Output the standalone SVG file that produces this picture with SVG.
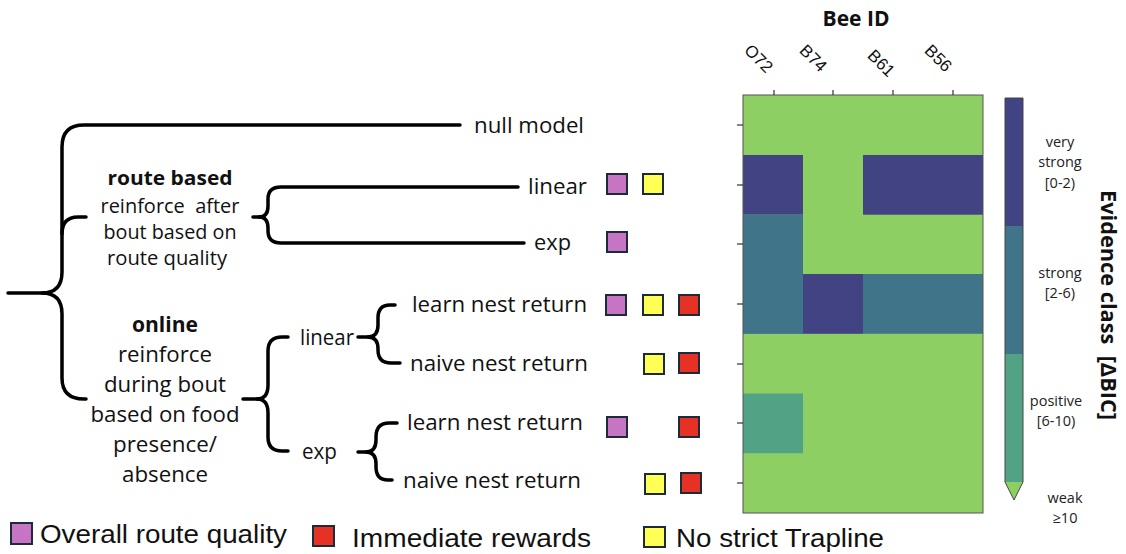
<svg xmlns="http://www.w3.org/2000/svg" width="1126" height="554" viewBox="0 0 1126 554">
  <style>
    .lbl { font-family: "Open Sans", "DejaVu Sans", sans-serif; font-size: 21px; fill: #111; }
    .blk { font-family: "Open Sans", "DejaVu Sans", sans-serif; font-size: 20px; fill: #111; text-anchor: middle; white-space: pre; }
    .blk2 { font-size: 21px; }
    .bold { font-weight: bold; }
    .brace { fill: none; stroke: #000; stroke-width: 3.5; stroke-linecap: round; stroke-linejoin: round; }
    .sq { stroke: #1c2b3a; stroke-width: 2; }
    .pur { fill: #c874c4; }
    .yel { fill: #ffff55; }
    .red { fill: #e53225; }
    .tick { stroke: #333; stroke-width: 1.2; }
    .col { font-family: "Liberation Sans", Arial, sans-serif; font-size: 17px; fill: #111; text-anchor: end; }
    .cb { font-family: "Open Sans", "DejaVu Sans", sans-serif; font-size: 14.5px; fill: #222; text-anchor: middle; }
    .leg { font-family: "Liberation Sans", Arial, sans-serif; font-size: 25px; fill: #111; }
    .c0 { fill: #8dcf62; }
    .c1 { fill: #424382; }
    .c2 { fill: #3f7489; }
    .c3 { fill: #52a385; }
  </style>
  <defs>
    <rect id="box" width="20" height="20"/>
  </defs>

  <rect width="1126" height="554" fill="#fff"/>

  <!-- brace connectors of the model tree -->
  <g id="connectors" class="brace">
    <!-- root brace -->
    <path d="M8,293 H42 Q62,293 62,272 V147 Q62,125 84,125 H460"/>
    <path d="M42,293 Q62,293 62,314 V378 Q62,399 84,399 H86"/>
    <path d="M62,234 Q62,217 78,217 H86"/>
    <!-- route based brace -->
    <path d="M253,217 H259 Q268,217 268,206 V199 Q268,187 281,187 H518"/>
    <path d="M259,217 Q268,217 268,228 V231 Q268,243 281,243 H524"/>
    <!-- online brace -->
    <path d="M243,399 H257 Q268,399 268,385 V351 Q268,337 282,337 H288"/>
    <path d="M257,399 Q268,399 268,413 V437 Q268,451 282,451 H288"/>
    <!-- online / linear brace -->
    <path d="M358,337 H368 Q378,337 378,325 V318 Q378,305 390,305 H395"/>
    <path d="M368,337 Q378,337 378,349 V350 Q378,363 391,363 H400"/>
    <!-- online / exp brace -->
    <path d="M358,452 H366 Q376,452 376,440 V437 Q376,423 389,423 H397"/>
    <path d="M366,452 Q376,452 376,464 V467 Q376,480 388,480 H392"/>
  </g>

  <!-- model family descriptions -->
  <g id="node-route-based">
    <text class="blk bold" x="170" y="185" textLength="125" lengthAdjust="spacingAndGlyphs">route based</text>
    <text class="blk" x="170" y="213" textLength="139" lengthAdjust="spacingAndGlyphs">reinforce  after</text>
    <text class="blk" x="170" y="239" textLength="133" lengthAdjust="spacingAndGlyphs">bout based on</text>
    <text class="blk" x="167" y="265" textLength="120" lengthAdjust="spacingAndGlyphs">route quality</text>
  </g>
  <g id="node-online">
    <text class="blk blk2 bold" x="165" y="332" textLength="66" lengthAdjust="spacingAndGlyphs">online</text>
    <text class="blk blk2" x="165" y="362" textLength="94" lengthAdjust="spacingAndGlyphs">reinforce</text>
    <text class="blk blk2" x="165" y="392" textLength="122" lengthAdjust="spacingAndGlyphs">during bout</text>
    <text class="blk blk2" x="165" y="422" textLength="149" lengthAdjust="spacingAndGlyphs">based on food</text>
    <text class="blk blk2" x="165" y="452" textLength="104" lengthAdjust="spacingAndGlyphs">presence/</text>
    <text class="blk blk2" x="165" y="482" textLength="86" lengthAdjust="spacingAndGlyphs">absence</text>
  </g>
  <g id="node-online-linear">
    <text class="lbl" x="300" y="345" textLength="54" lengthAdjust="spacingAndGlyphs">linear</text>
  </g>
  <g id="node-online-exp">
    <text class="lbl" x="302" y="459" textLength="35" lengthAdjust="spacingAndGlyphs">exp</text>
  </g>

  <!-- leaf models with their property markers -->
  <g id="node-null">
    <text class="lbl" x="474" y="133" textLength="110" lengthAdjust="spacingAndGlyphs">null model</text>
  </g>
  <g id="node-route-linear">
    <text class="lbl" x="528" y="194" textLength="59" lengthAdjust="spacingAndGlyphs">linear</text>
    <use href="#box" class="sq pur" x="607" y="174"/>
    <use href="#box" class="sq yel" x="643" y="174"/>
  </g>
  <g id="node-route-exp">
    <text class="lbl" x="534" y="250" textLength="37" lengthAdjust="spacingAndGlyphs">exp</text>
    <use href="#box" class="sq pur" x="607" y="232"/>
  </g>
  <g id="node-lin-learn">
    <text class="lbl" x="412" y="312" textLength="175" lengthAdjust="spacingAndGlyphs">learn nest return</text>
    <use href="#box" class="sq pur" x="606" y="295"/>
    <use href="#box" class="sq yel" x="643" y="295"/>
    <use href="#box" class="sq red" x="679" y="295"/>
  </g>
  <g id="node-lin-naive">
    <text class="lbl" x="410" y="371" textLength="178" lengthAdjust="spacingAndGlyphs">naive nest return</text>
    <use href="#box" class="sq yel" x="644" y="354"/>
    <use href="#box" class="sq red" x="679" y="353"/>
  </g>
  <g id="node-exp-learn">
    <text class="lbl" x="407" y="430" textLength="176" lengthAdjust="spacingAndGlyphs">learn nest return</text>
    <use href="#box" class="sq pur" x="607" y="417"/>
    <use href="#box" class="sq red" x="679" y="417"/>
  </g>
  <g id="node-exp-naive">
    <text class="lbl" x="403" y="488" textLength="178" lengthAdjust="spacingAndGlyphs">naive nest return</text>
    <use href="#box" class="sq yel" x="645" y="474"/>
    <use href="#box" class="sq red" x="681" y="473"/>
  </g>

  <!-- evidence heatmap: 7 models x 4 bees -->
  <g id="heatmap">
    <text x="856" y="26" font-family="'Open Sans', 'DejaVu Sans', sans-serif" font-size="21" font-weight="bold" text-anchor="middle" fill="#111">Bee ID</text>
    <text class="col" transform="translate(766,74) rotate(45)">O72</text>
    <text class="col" transform="translate(820,73) rotate(45)">B74</text>
    <text class="col" transform="translate(888,78) rotate(45)">B61</text>
    <text class="col" transform="translate(945,73) rotate(45)">B56</text>

    <rect class="c0" x="743" y="95" width="240" height="418"/>
    <rect class="c1" x="743" y="155" width="60" height="59.7"/>
    <rect class="c1" x="863" y="155" width="120" height="59.7"/>
    <rect class="c2" x="743" y="214.4" width="60" height="119.5"/>
    <rect class="c1" x="803" y="274" width="60" height="59.8"/>
    <rect class="c2" x="863" y="274" width="120" height="59.8"/>
    <rect class="c3" x="743" y="393.5" width="60" height="59.7"/>
    <rect x="743" y="95" width="240" height="418" fill="none" stroke="#555" stroke-width="1"/>

    <g class="tick">
      <line x1="774" y1="90" x2="774" y2="95"/>
      <line x1="833" y1="90" x2="833" y2="95"/>
      <line x1="893" y1="90" x2="893" y2="95"/>
      <line x1="953" y1="90" x2="953" y2="95"/>
      <line x1="737" y1="125" x2="743" y2="125"/>
      <line x1="737" y1="185" x2="743" y2="185"/>
      <line x1="737" y1="244" x2="743" y2="244"/>
      <line x1="737" y1="304" x2="743" y2="304"/>
      <line x1="737" y1="364" x2="743" y2="364"/>
      <line x1="737" y1="423" x2="743" y2="423"/>
      <line x1="737" y1="483" x2="743" y2="483"/>
    </g>
  </g>

  <!-- colour bar -->
  <g id="colorbar">
    <rect class="c1" x="1005" y="98" width="18" height="128"/>
    <rect class="c2" x="1005" y="226" width="18" height="128"/>
    <rect class="c3" x="1005" y="354" width="18" height="128"/>
    <path class="c0" d="M1005,482 H1023 L1014,500 Z"/>
    <path d="M1005,98 H1023 V482 L1014,500 L1005,482 Z" fill="none" stroke="#444" stroke-width="1"/>

    <text class="cb" x="1060" y="147">very</text>
    <text class="cb" x="1060" y="167">strong</text>
    <text class="cb" x="1060" y="188">[0-2)</text>
    <text class="cb" x="1060" y="278">strong</text>
    <text class="cb" x="1060" y="298">[2-6)</text>
    <text class="cb" x="1056" y="406">positive</text>
    <text class="cb" x="1056" y="426">[6-10)</text>
    <text class="cb" x="1065" y="503">weak</text>
    <text class="cb" x="1065" y="523">≥10</text>

    <text transform="translate(1101,305) rotate(90)" font-family="'Open Sans', 'DejaVu Sans', sans-serif" font-size="21" font-weight="bold" text-anchor="middle" fill="#111" style="white-space:pre" textLength="230" lengthAdjust="spacingAndGlyphs">Evidence class  [ΔBIC]</text>
  </g>

  <!-- legend -->
  <g id="legend">
    <rect class="sq pur" x="11" y="523" width="21" height="21"/>
    <text class="leg" x="40" y="543" textLength="247" lengthAdjust="spacingAndGlyphs">Overall route quality</text>
    <rect class="sq red" x="313" y="526" width="21" height="20"/>
    <text class="leg" x="352" y="547" textLength="239" lengthAdjust="spacingAndGlyphs">Immediate rewards</text>
    <rect class="sq yel" x="644" y="527" width="21" height="20"/>
    <text class="leg" x="676" y="547" textLength="208" lengthAdjust="spacingAndGlyphs">No strict Trapline</text>
  </g>
</svg>
